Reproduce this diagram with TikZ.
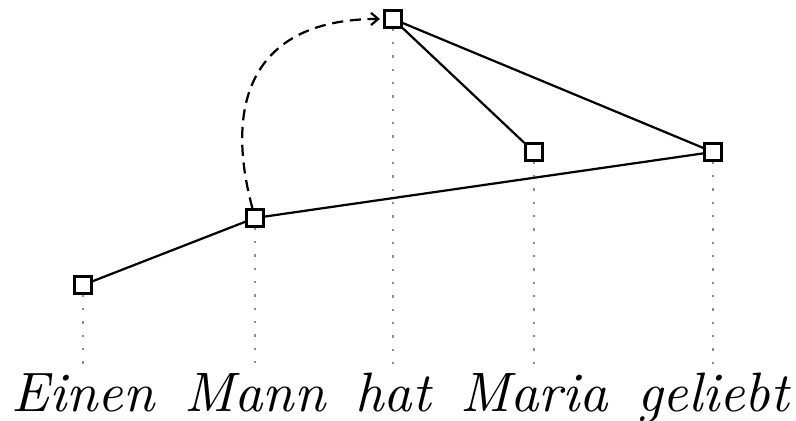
\documentclass[tikz,border=0pt]{standalone}
\usepackage{tikz}
\usetikzlibrary{arrows.meta}

\begin{document}
\begin{tikzpicture}[x=0.18pt,y=-0.18pt,
  word/.style={font=\itshape,anchor=base,inner sep=0pt},
  head/.style={draw,fill=white,line width=0.5pt,minimum size=3pt,inner sep=0pt},
  proj/.style={draw=black!45,dotted,line width=0.4pt},
  dep/.style={draw=black,line width=0.4pt},
  move/.style={draw=black,line width=0.4pt,dash pattern=on 2pt off 1.2pt,
    -{Straight Barb[length=1.3pt,width=2.2pt]},shorten >=0.6pt}
]
\useasboundingbox (0,0) rectangle (796,421);
% words
\node[word] (w1) at (83,412) {Einen};
\node[word] (w2) at (255,412) {Mann};
\node[word] (w3) at (393,412) {hat};
\node[word] (w4) at (534,412) {Maria};
\node[word] (w5) at (713,412) {geliebt};
% tree nodes
\node[head] (n1) at (83,285) {};
\node[head] (n2) at (255,218) {};
\node[head] (n3) at (393,19) {};
\node[head] (n4) at (534,152) {};
\node[head] (n5) at (713,152) {};
\foreach \i in {1,...,5} \draw[proj] (n\i.south) -- ([yshift=1pt]w\i.north);

\draw[dep] (n1) -- (n2);
\draw[dep] (n2) -- (n5);
\draw[dep] (n3) -- (n4);
\draw[dep] (n3) -- (n5);
\draw[move] (n2) to[out=105,in=180,looseness=1.35] (n3);
\end{tikzpicture}
\end{document}
